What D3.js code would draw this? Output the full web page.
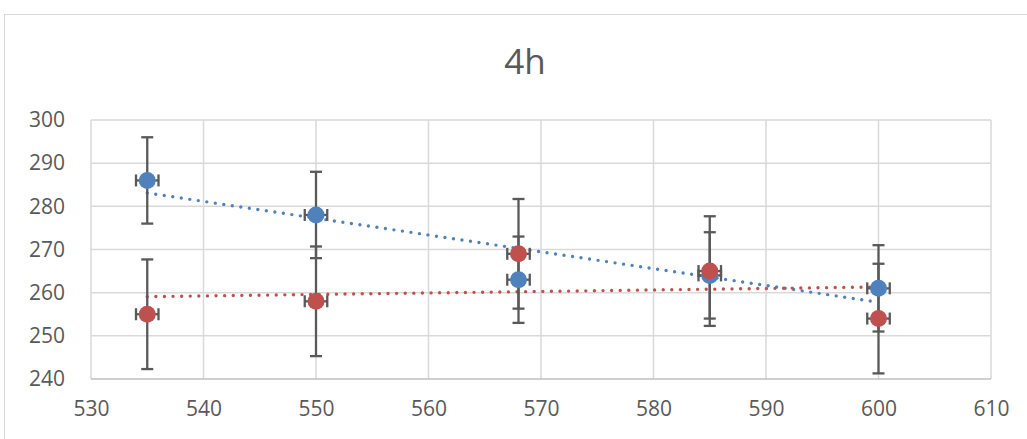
<!DOCTYPE html>
<html>
<head>
<meta charset="utf-8">
<script src="https://cdn.jsdelivr.net/npm/d3@7"></script>
<style>
  html, body { margin: 0; padding: 0; background: #fff; }
  text { font-family: "Open Sans", sans-serif; fill: #595959; }
</style>
</head>
<body>
<script>
const WIDTH = 1027;
const HEIGHT = 439;

// data
const xValues = [535, 550, 568, 585, 600];
const blueValues = [286, 278, 263, 264, 261];
const redValues = [255, 258, 269, 265, 254];
const blueError = 10;
const redError = 12.7;
const xError = 1;
const xTicks = [530, 540, 550, 560, 570, 580, 590, 600, 610];
const yTicks = [240, 250, 260, 270, 280, 290, 300];
const title = '4h';

const series = [
  {name: 'blue', values: blueValues, err: blueError, color: '#4F81BD'},
  {name: 'red', values: redValues, err: redError, color: '#C0504D'},
];

const margin = {left: 91, right: 36, top: 120, bottom: 60};

const x = d3.scaleLinear().domain([530, 610]).range([margin.left, WIDTH - margin.right]);
const y = d3.scaleLinear().domain([240, 300]).range([HEIGHT - margin.bottom, margin.top]);

function linearFit(xs, ys) {
  const mx = d3.mean(xs), my = d3.mean(ys);
  let sxy = 0, sxx = 0;
  xs.forEach((xv, i) => {
    sxy += (xv - mx) * (ys[i] - my);
    sxx += (xv - mx) * (xv - mx);
  });
  const slope = sxy / sxx;
  return xv => my + slope * (xv - mx);
}

const svg = d3.select('body')
  .append('svg')
  .attr('width', WIDTH)
  .attr('height', HEIGHT);

// outer chart frame
svg.append('rect')
  .attr('x', 4.5)
  .attr('y', 14.5)
  .attr('width', 1060)
  .attr('height', 500)
  .attr('fill', 'none')
  .attr('stroke', '#d9d9d9');

svg.append('text')
  .attr('x', 525)
  .attr('y', 74)
  .attr('text-anchor', 'middle')
  .style('font-size', '35px')
  .text(title);

// gridlines
svg.append('g')
  .selectAll('line.v')
  .data(xTicks)
  .join('line')
  .attr('x1', d => x(d)).attr('x2', d => x(d))
  .attr('y1', y(300)).attr('y2', y(240))
  .attr('stroke', '#d9d9d9')
  .attr('stroke-width', 1.5);

svg.append('g')
  .selectAll('line.h')
  .data(yTicks)
  .join('line')
  .attr('x1', x(530)).attr('x2', x(610))
  .attr('y1', d => y(d)).attr('y2', d => y(d))
  .attr('stroke', d => d === 240 ? '#bfbfbf' : '#d9d9d9')
  .attr('stroke-width', 1.5);

// axes labels
const xAxis = d3.axisBottom(x).tickValues(xTicks).tickSize(0).tickPadding(22);
const gx = svg.append('g')
  .attr('transform', `translate(0,${y(240)})`)
  .call(xAxis);
gx.select('.domain').remove();
gx.selectAll('text').style('font-size', '21px').style('font-family', '"Open Sans", sans-serif').attr('fill', '#595959');

const yAxis = d3.axisLeft(y).tickValues(yTicks).tickSize(0).tickPadding(26);
const gy = svg.append('g')
  .attr('transform', `translate(${x(530)},0)`)
  .call(yAxis);
gy.select('.domain').remove();
gy.selectAll('text').style('font-size', '21px').style('font-family', '"Open Sans", sans-serif').attr('fill', '#595959');

// trendlines
series.forEach(s => {
  const fit = linearFit(xValues, s.values);
  const x0 = d3.min(xValues), x1 = d3.max(xValues);
  svg.append('line')
    .attr('x1', x(x0)).attr('y1', y(fit(x0)))
    .attr('x2', x(x1)).attr('y2', y(fit(x1)))
    .attr('stroke', s.color)
    .attr('stroke-width', 3.4)
    .attr('stroke-linecap', 'round')
    .attr('stroke-dasharray', '0,8.6');
});

// error bars
const capV = 6, capH = 6;
series.forEach(s => {
  const g = svg.append('g')
    .attr('stroke', '#595959')
    .attr('stroke-width', 2.3);
  s.values.forEach((v, i) => {
    const cx = x(xValues[i]);
    const top = y(v + s.err), bot = y(v - s.err), cy = y(v);
    g.append('line').attr('x1', cx).attr('x2', cx).attr('y1', top).attr('y2', bot);
    g.append('line').attr('x1', cx - capV).attr('x2', cx + capV).attr('y1', top).attr('y2', top);
    g.append('line').attr('x1', cx - capV).attr('x2', cx + capV).attr('y1', bot).attr('y2', bot);
    const l = x(xValues[i] - xError), r = x(xValues[i] + xError);
    g.append('line').attr('x1', l).attr('x2', r).attr('y1', cy).attr('y2', cy);
    g.append('line').attr('x1', l).attr('x2', l).attr('y1', cy - capH).attr('y2', cy + capH);
    g.append('line').attr('x1', r).attr('x2', r).attr('y1', cy - capH).attr('y2', cy + capH);
  });
});

// markers
series.forEach(s => {
  svg.append('g')
    .selectAll('circle')
    .data(s.values)
    .join('circle')
    .attr('cx', (d, i) => x(xValues[i]))
    .attr('cy', d => y(d))
    .attr('r', 8.5)
    .attr('fill', s.color);
});
</script>
</body>
</html>
